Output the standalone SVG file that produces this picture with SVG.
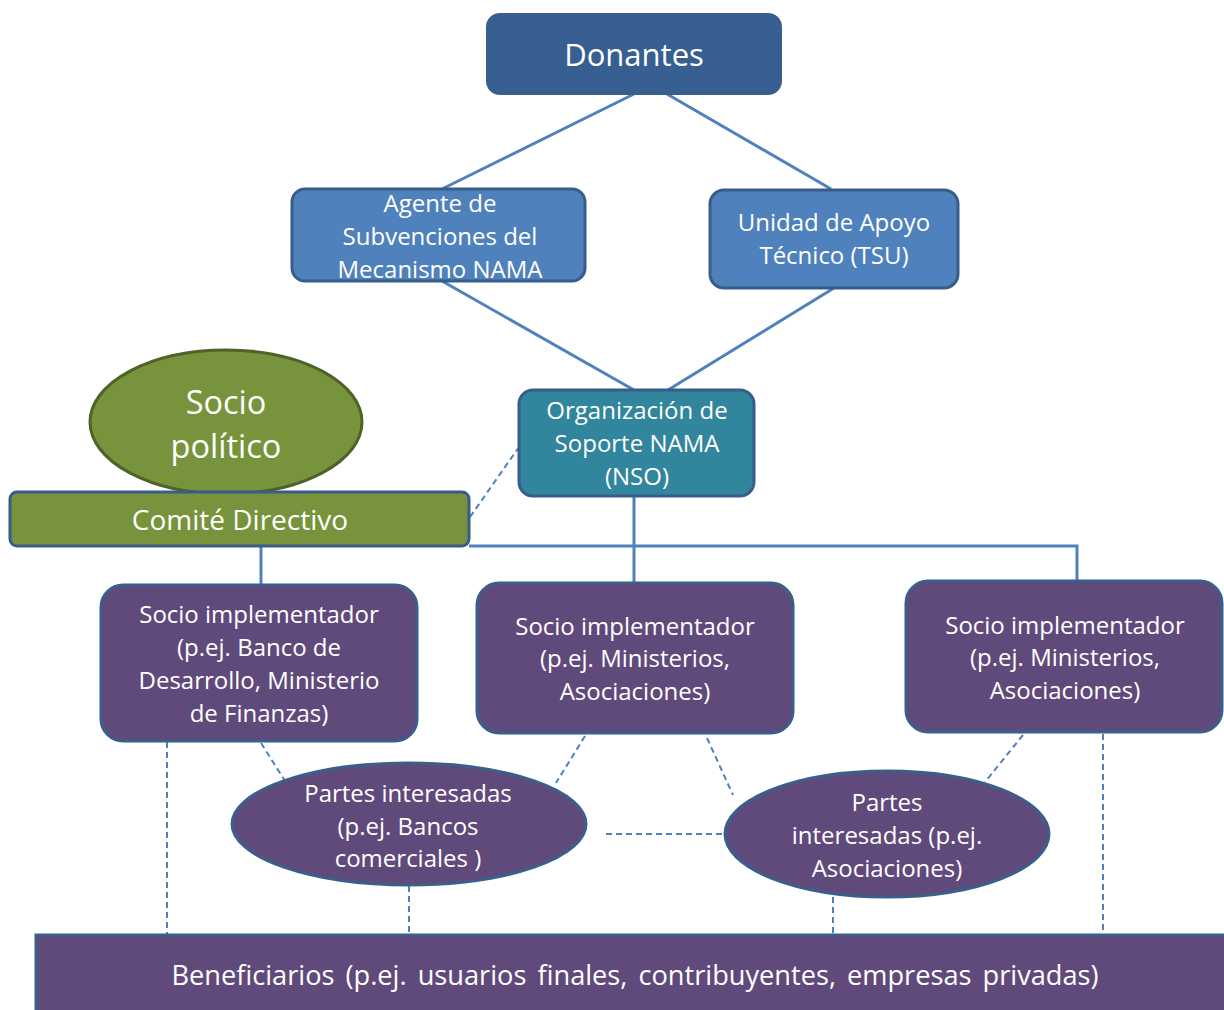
<svg xmlns="http://www.w3.org/2000/svg" width="1224" height="1010" viewBox="0 0 1224 1010">
<style>
text{font-family:"Open Sans","Liberation Sans",sans-serif;fill:#fff;text-anchor:middle;font-size:24px}
.c{stroke:#4f81bd;stroke-width:3;fill:none}
.d{stroke:#4f81bd;stroke-width:2;fill:none;stroke-dasharray:6 4}
.blue{fill:#4f81bd;stroke:#385d8a;stroke-width:3}
.purple{fill:#604a7b;stroke:#3a5f8b;stroke-width:3}
.green{fill:#77933c;stroke:#4f6228;stroke-width:3}
</style>
<rect width="1224" height="1010" fill="#fff"/>
<g id="connectors">
<line class="c" x1="634" y1="94" x2="442" y2="189"/>
<line class="c" x1="667" y1="94" x2="831" y2="189"/>
<line class="c" x1="442" y1="281" x2="634" y2="390"/>
<line class="c" x1="834" y1="288" x2="668" y2="390"/>
<line class="c" x1="634" y1="496" x2="634" y2="583"/>
<polyline class="c" points="469,546 1077,546 1077,581"/>
<line class="c" x1="261" y1="546" x2="261" y2="585"/>
<line class="d" x1="470" y1="517" x2="519" y2="447"/>
<line class="d" x1="261" y1="743" x2="285" y2="781"/>
<line class="d" x1="585" y1="736" x2="556" y2="783"/>
<line class="d" x1="707" y1="738" x2="733" y2="795"/>
<line class="d" x1="1023" y1="735" x2="985" y2="782"/>
<line class="d" x1="606" y1="834" x2="725" y2="834"/>
<line class="d" x1="167" y1="742" x2="167" y2="935"/>
<line class="d" x1="1103" y1="734" x2="1103" y2="935"/>
<line class="d" x1="409" y1="886" x2="409" y2="935"/>
<line class="d" x1="833" y1="897" x2="833" y2="935"/>
</g>
<g id="donantes">
<rect x="487" y="14" width="294" height="80" rx="13" fill="#375f91" stroke="#3a5f8b" stroke-width="2"/>
<text x="634" y="66" style="font-size:31px">Donantes</text>
</g>
<g id="agente">
<rect class="blue" x="292" y="189" width="293" height="92" rx="13"/>
<text x="440" y="212">Agente de</text>
<text x="440" y="245">Subvenciones del</text>
<text x="440" y="278">Mecanismo NAMA</text>
</g>
<g id="tsu">
<rect class="blue" x="710" y="190" width="248" height="98" rx="14"/>
<text x="834" y="231">Unidad de Apoyo</text>
<text x="834" y="264">Técnico (TSU)</text>
</g>
<g id="nso">
<rect x="519" y="390" width="235" height="106" rx="14" fill="#31859c" stroke="#385d8a" stroke-width="3"/>
<text x="637" y="419">Organización de</text>
<text x="637" y="452">Soporte NAMA</text>
<text x="637" y="485">(NSO)</text>
</g>
<g id="socio-politico">
<ellipse class="green" cx="226" cy="422" rx="136" ry="72"/>
<text x="226" y="414" style="font-size:32.5px">Socio</text>
<text x="226" y="458" style="font-size:32.5px">político</text>
</g>
<g id="comite">
<rect x="10" y="492" width="459" height="54" rx="7" fill="#77933c" stroke="#385d8a" stroke-width="3"/>
<text x="240" y="530" style="font-size:28px">Comité Directivo</text>
</g>
<g id="socio1">
<rect class="purple" x="101" y="585" width="316" height="156" rx="22"/>
<text x="259" y="623">Socio implementador</text>
<text x="259" y="656">(p.ej. Banco de</text>
<text x="259" y="689">Desarrollo, Ministerio</text>
<text x="259" y="722">de Finanzas)</text>
</g>
<g id="socio2">
<rect class="purple" x="477" y="583" width="316" height="150" rx="22"/>
<text x="635" y="635">Socio implementador</text>
<text x="635" y="667">(p.ej. Ministerios,</text>
<text x="635" y="700">Asociaciones)</text>
</g>
<g id="socio3">
<rect class="purple" x="906" y="581" width="316" height="151" rx="22"/>
<text x="1065" y="634">Socio implementador</text>
<text x="1065" y="666">(p.ej. Ministerios,</text>
<text x="1065" y="699">Asociaciones)</text>
</g>
<g id="partes1">
<ellipse class="purple" cx="409" cy="824" rx="177" ry="61"/>
<text x="408" y="802">Partes interesadas</text>
<text x="408" y="835">(p.ej. Bancos</text>
<text x="408" y="867">comerciales )</text>
</g>
<g id="partes2">
<ellipse class="purple" cx="887" cy="834" rx="162" ry="63"/>
<text x="887" y="811">Partes</text>
<text x="887" y="844">interesadas (p.ej.</text>
<text x="887" y="877">Asociaciones)</text>
</g>
<g id="beneficiarios">
<rect class="purple" x="36" y="935" width="1200" height="85"/>
<text x="635" y="985" style="font-size:27.2px;word-spacing:4px">Beneficiarios (p.ej. usuarios finales, contribuyentes, empresas privadas)</text>
</g>
</svg>
